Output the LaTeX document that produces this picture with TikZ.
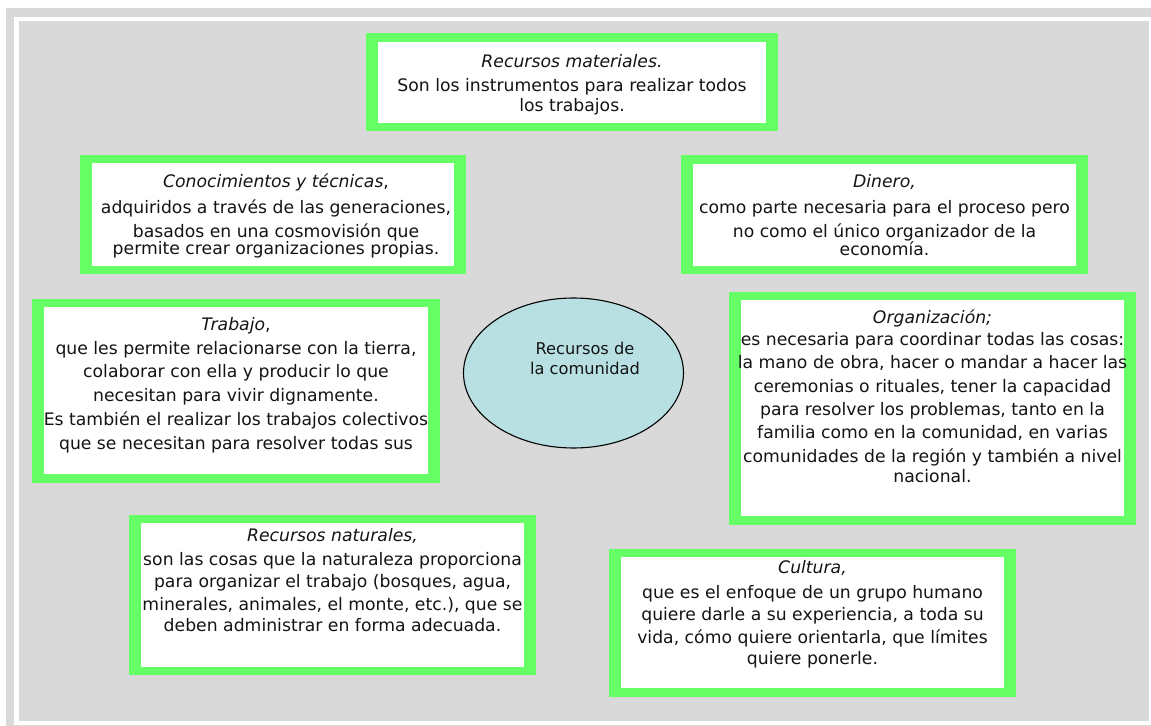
\documentclass[tikz,border=0pt]{standalone}
\usepackage{fontspec}
\setmainfont{DejaVu Sans}
\definecolor{bggray}{HTML}{D9D9D9}
\definecolor{boxgreen}{HTML}{66FF66}
\definecolor{ellblue}{HTML}{B8E0E3}
\definecolor{txt}{HTML}{141414}
\tikzset{
  boxtext/.style={anchor=north, align=center, inner sep=0pt, text=txt,
    font=\fontsize{17.3}{21}\selectfont},
  greenfill/.style={fill=boxgreen},
  whitefill/.style={fill=white},
  hub/.style={ellipse, draw=black, line width=1.1pt, fill=ellblue,
    minimum width=220bp, minimum height=150bp, inner sep=0pt},
  hubtext/.style={align=center, inner sep=0pt, text=txt,
    font=\fontsize{16.3}{20}\selectfont}
}
\usetikzlibrary{shapes.geometric}
\begin{document}
\begin{tikzpicture}[x=1bp,y=-1bp]
\useasboundingbox (0,0) rectangle (1151,726);
% frame
\fill[bggray] (6,8) rectangle (1151,726);
\fill[white] (14,17) rectangle (1151,725);
\fill[bggray] (19,21) rectangle (1149,721);

% Recursos materiales
\fill[greenfill] (366,33) rectangle (778,131);
\fill[whitefill] (378,42) rectangle (766,123);
\node[boxtext] (mat) at (572,52) {\rule{0pt}{15pt}{\itshape Recursos materiales.}\\[3pt]
Son los instrumentos para realizar todos\\[0pt] los trabajos.};

% Conocimientos
\fill[greenfill] (80,155) rectangle (466,274);
\fill[whitefill] (92,163) rectangle (454,266);
\node[boxtext] (con) at (276,172) {\rule{0pt}{15pt}{\itshape Conocimientos y técnicas},\\[5pt]
adquiridos a través de las generaciones,\\[4pt]
basados en una cosmovisión que\\[-4pt]
permite crear organizaciones propias.};

% Dinero
\fill[greenfill] (681,155) rectangle (1088,274);
\fill[whitefill] (693,164) rectangle (1076,266);
\node[boxtext] (din) at (884.5,172) {\rule{0pt}{15pt}{\itshape Dinero,}\\[5pt]
como parte necesaria para el proceso pero\\[4pt]
no como el único organizador de la\\[-3pt]
economía.};

% Trabajo
\fill[greenfill] (32,299) rectangle (440,483);
\fill[whitefill] (44,307) rectangle (428,474);
\node[boxtext] (tra) at (236,315) {\rule{0pt}{15pt}{\itshape Trabajo},\\[3pt]
que les permite relacionarse con la tierra,\\[3pt]
colaborar con ella y producir lo que\\[3pt]
necesitan para vivir dignamente.\\[3pt]
Es también el realizar los trabajos colectivos\\[3pt]
que se necesitan para resolver todas sus};

% Organizacion
\fill[greenfill] (729,292) rectangle (1136,525);
\fill[whitefill] (741,300) rectangle (1124,516);
\node[boxtext] (org) at (932.5,308) {\rule{0pt}{15pt}{\itshape Organización;}\\[1.5pt]
es necesaria para coordinar todas las cosas:\\[2.5pt]
la mano de obra, hacer o mandar a hacer las\\[2.3pt]
ceremonias o rituales, tener la capacidad\\[2.3pt]
para resolver los problemas, tanto en la\\[2.5pt]
familia como en la comunidad, en varias\\[2.3pt]
comunidades de la región y también a nivel\\[0pt]
nacional.};

% Recursos naturales
\fill[greenfill] (129,515) rectangle (536,675);
\fill[whitefill] (141,523) rectangle (524,667);
\node[boxtext] (nat) at (332.5,526) {\rule{0pt}{15pt}{\itshape Recursos naturales,}\\[3pt]
son las cosas que la naturaleza proporciona\\[2pt]
para organizar el trabajo (bosques, agua,\\[2pt]
minerales, animales, el monte, etc.), que se\\[0pt]
deben administrar en forma adecuada.};

% Cultura
\fill[greenfill] (609,549) rectangle (1016,697);
\fill[whitefill] (621,557) rectangle (1004,688);
\node[boxtext] (cul) at (812.5,558) {\rule{0pt}{15pt}{\itshape Cultura,}\\[4pt]
que es el enfoque de un grupo humano\\[2pt]
quiere darle a su experiencia, a toda su\\[2pt]
vida, cómo quiere orientarla, que límites\\[0pt]
quiere ponerle.};

% hub
\node[hub] (hub) at (573.5,373) {};
\node[hubtext] (hubt) at (585,358) {Recursos de\\la comunidad};
\end{tikzpicture}
\end{document}
